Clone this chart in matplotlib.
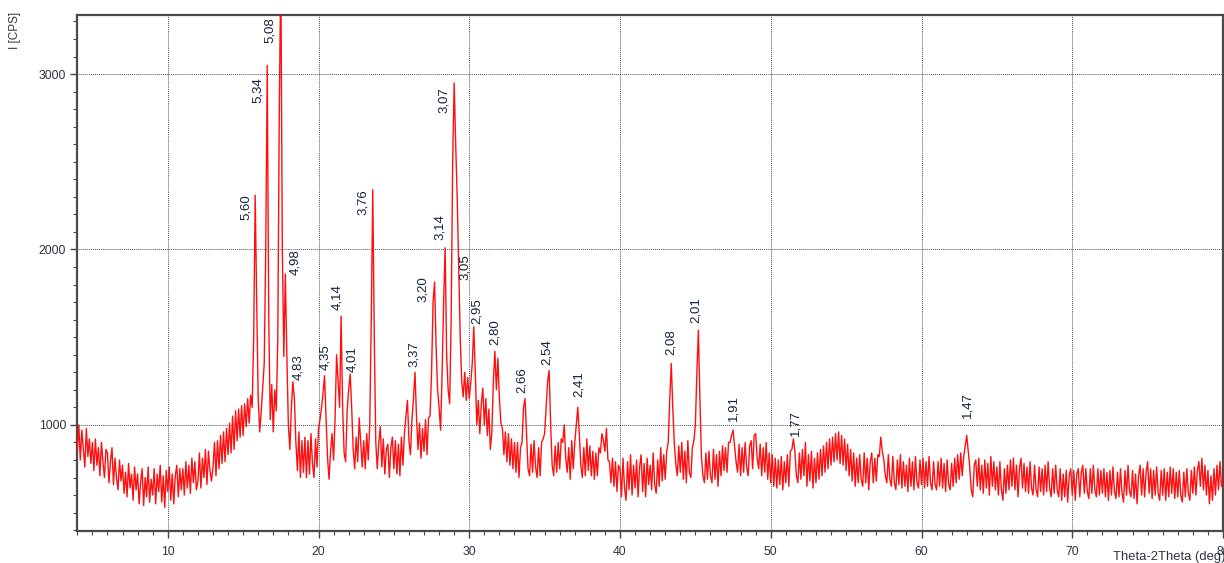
import numpy as np
import matplotlib
matplotlib.use("Agg")
import matplotlib.pyplot as plt
from matplotlib.ticker import MultipleLocator

# ---- data ----
scan_start = 4.0   # deg 2theta
scan_step = 0.1    # deg
intensity = [
    850, 1000, 800, 970, 860, 760, 980, 820, 920, 780,       # 4
    900, 740, 920, 770, 870, 710, 900, 790, 700, 860,        # 5
    840, 670, 790, 870, 660, 810, 700, 630, 800, 680,        # 6
    770, 610, 730, 590, 780, 640, 720, 570, 760, 630,        # 7
    720, 550, 670, 750, 540, 700, 590, 760, 560, 690,        # 8
    600, 750, 550, 720, 620, 770, 560, 710, 530, 740,        # 9
    620, 760, 570, 720, 550, 710, 770, 590, 750, 630,        # 10
    750, 600, 790, 640, 770, 610, 810, 670, 790, 630,        # 11
    680, 840, 640, 810, 700, 860, 660, 850, 740, 680,        # 12
    760, 900, 710, 910, 750, 940, 780, 960, 790, 980,        # 13
    830, 1010, 840, 1050, 860, 1080, 910, 1090, 930, 1110,   # 14
    940, 1120, 990, 1150, 1010, 1170, 1100, 1500, 2310, 1700,   # 15
    1150, 960, 1080, 1220, 1350, 2000, 3050, 1600, 1030, 1230,  # 16
    960, 1200, 1080, 1500, 2800, 3600, 2000, 1390, 1860, 1400,  # 17
    1000, 860, 1100, 1245, 1150, 900, 740, 960, 700, 910,    # 18
    730, 930, 700, 910, 720, 950, 780, 700, 920, 760,        # 19
    980, 1030, 1100, 1180, 1280, 1050, 810, 690, 850, 950,   # 20
    800, 1040, 1400, 1250, 1100, 1620, 1100, 840, 790, 1080, # 21
    1200, 1290, 1100, 860, 750, 930, 790, 1040, 900, 760,    # 22
    910, 750, 950, 800, 1000, 1600, 2340, 1500, 900, 750,    # 23
    900, 990, 760, 920, 720, 860, 890, 700, 870, 930,        # 24
    750, 910, 720, 890, 710, 930, 770, 950, 1050, 1140,      # 25
    910, 830, 1030, 1150, 1300, 1050, 860, 1010, 810, 980,   # 26
    850, 1030, 830, 1040, 1050, 1300, 1700, 1815, 1450, 1200,   # 27
    1100, 970, 1300, 1700, 2010, 1400, 1200, 1120, 1600, 2500,  # 28
    2950, 2600, 2300, 1900, 1500, 1250, 1160, 1300, 1140, 1270, # 29
    1150, 1240, 1350, 1560, 1300, 1000, 1140, 950, 1120, 1210,  # 30
    1000, 1150, 940, 1090, 860, 960, 1250, 1420, 1200, 1380, # 31
    1150, 1010, 980, 830, 960, 790, 950, 770, 920, 750,      # 32
    900, 730, 900, 700, 870, 900, 1100, 1150, 950, 750,      # 33
    710, 890, 730, 910, 760, 700, 870, 710, 900, 920,        # 34
    950, 1100, 1250, 1310, 1000, 770, 710, 880, 730, 900,    # 35
    750, 920, 900, 1000, 810, 730, 870, 690, 910, 750,       # 36
    900, 1000, 1100, 950, 770, 700, 870, 710, 920, 740,      # 37
    880, 710, 850, 690, 840, 710, 870, 840, 950, 910,        # 38
    850, 980, 800, 790, 670, 810, 650, 790, 620, 770,        # 39
    750, 590, 810, 640, 570, 790, 630, 830, 600, 770,        # 40
    640, 800, 590, 760, 830, 620, 780, 590, 810, 660,        # 41
    770, 630, 840, 660, 610, 800, 650, 870, 680, 830,        # 42
    690, 850, 900, 1150, 1350, 1100, 900, 780, 710, 880,     # 43
    730, 900, 690, 850, 670, 910, 730, 700, 870, 910,        # 44
    1000, 1300, 1540, 1150, 820, 710, 670, 840, 690, 850,    # 45
    710, 670, 860, 690, 830, 650, 850, 710, 880, 740,        # 46
    870, 730, 900, 900, 940, 970, 880, 790, 730, 890,        # 47
    710, 870, 730, 900, 760, 710, 880, 910, 750, 940,        # 48
    950, 810, 750, 890, 710, 870, 730, 900, 690, 840,        # 49
    670, 830, 650, 810, 640, 800, 660, 820, 630, 790,        # 50
    670, 830, 650, 850, 860, 920, 850, 710, 670, 840,        # 51
    690, 860, 710, 900, 650, 830, 680, 850, 640, 810,        # 52
    670, 840, 690, 860, 710, 880, 730, 900, 750, 920,        # 53
    770, 930, 790, 950, 800, 960, 780, 940, 770, 920,        # 54
    740, 890, 710, 860, 680, 840, 650, 810, 670, 830,        # 55
    690, 650, 840, 670, 810, 630, 790, 840, 670, 810,        # 56
    680, 830, 820, 930, 850, 800, 710, 670, 830, 690,        # 57
    650, 820, 670, 630, 800, 660, 830, 640, 790, 650,        # 58
    770, 620, 810, 650, 790, 630, 820, 670, 640, 800,        # 59
    660, 810, 640, 790, 650, 820, 670, 630, 790, 660,        # 60
    630, 790, 650, 810, 640, 780, 620, 800, 660, 630,        # 61
    780, 650, 810, 670, 830, 690, 840, 710, 820, 880,        # 62
    940, 850, 760, 630, 590, 770, 800, 650, 810, 630,        # 63
    770, 610, 800, 640, 780, 600, 820, 650, 790, 630,        # 64
    760, 600, 790, 630, 570, 750, 610, 770, 630, 800,        # 65
    650, 810, 630, 770, 590, 750, 810, 640, 780, 620,        # 66
    760, 610, 790, 640, 600, 770, 630, 590, 760, 620,        # 67
    750, 600, 770, 620, 790, 640, 590, 750, 610, 770,        # 68
    630, 590, 750, 570, 720, 590, 740, 560, 710, 750,        # 69
    600, 740, 570, 720, 750, 590, 730, 770, 610, 750,        # 70
    620, 580, 750, 610, 770, 630, 590, 750, 600, 740,        # 71
    610, 750, 590, 730, 570, 740, 600, 760, 620, 580,        # 72
    730, 590, 750, 610, 560, 740, 600, 770, 620, 590,        # 73
    740, 580, 720, 550, 710, 770, 600, 750, 590, 730,        # 74
    790, 610, 750, 580, 740, 600, 760, 610, 570, 740,        # 75
    600, 750, 570, 730, 590, 760, 610, 750, 580, 730,        # 76
    590, 740, 600, 560, 730, 590, 750, 610, 570, 740,        # 77
    610, 760, 600, 740, 790, 650, 810, 630, 770, 600,        # 78
    740, 550, 710, 570, 750, 600, 770, 630, 790, 650,        # 79
    690,                                                     # 80
]

# peak annotations: d-spacing text, 2theta of label, intensity at label bottom
peak_labels = ["5,60", "5,34", "5,08", "4,98", "4,83", "4,35", "4,14", "4,01",
               "3,76", "3,37", "3,20", "3,14", "3,07", "3,05", "2,95", "2,80",
               "2,66", "2,54", "2,41", "2,08", "2,01", "1,91", "1,77", "1,47"]
peak_label_x = [15.2, 16.0, 16.8, 18.45, 18.65, 20.45, 21.22, 22.22,
                22.97, 26.3, 26.93, 28.04, 28.3, 29.74, 30.52, 31.69,
                33.5, 35.17, 37.27, 43.4, 45.01, 47.52, 51.65, 63.05]
peak_label_y = [2167, 2834, 3177, 1853, 1254, 1311, 1654, 1300,
                2196, 1330, 1701, 2053, 2776, 1825, 1578, 1454,
                1179, 1340, 1159, 1398, 1582, 1020, 938, 1040]

x_major = [10, 20, 30, 40, 50, 60, 70, 80]
y_major = [1000, 2000, 3000]

# ---- figure ----
W, H = 1224, 563
fig = plt.figure(figsize=(W / 100, H / 100), dpi=100)
left, right, top, bottom = 77.3, 1223.0, 15.0, 531.0
ax = fig.add_axes([left / W, 1 - bottom / H, (right - left) / W, (bottom - top) / H])

theta = scan_start + scan_step * np.arange(len(intensity))
ax.plot(theta, intensity, color="#ff1010", lw=1.0, zorder=3)

ax.set_xlim(4, 80)
ax.set_ylim(395, 3337)

ax.set_xticks(x_major)
ax.set_xticklabels([str(v) for v in x_major])
ax.xaxis.set_minor_locator(MultipleLocator(1))
ax.set_yticks(y_major)
ax.set_yticklabels([str(v) for v in y_major])
ax.yaxis.set_minor_locator(MultipleLocator(100))

for lab in ax.get_xticklabels() + ax.get_yticklabels():
    lab.set_fontfamily(["Liberation Sans", "DejaVu Sans"])
    lab.set_fontsize(8.8)
    lab.set_color("#2e3440")

ax.tick_params(axis="both", which="major", length=5, width=1.0, color="#444444", direction="out")
ax.tick_params(axis="both", which="minor", length=3, width=0.8, color="#444444", direction="out")
ax.tick_params(axis="x", which="major", pad=6)
ax.tick_params(axis="y", which="major", pad=3)

ax.grid(True, which="major", color="#555555", linestyle=(0, (1, 1)), linewidth=0.7, zorder=1)
ax.set_axisbelow(True)

for side in ["left", "bottom", "top", "right"]:
    ax.spines[side].set_color("#4a4a4a")
    ax.spines[side].set_linewidth(1.6)

label_family = ["Liberation Sans Narrow", "Liberation Sans", "DejaVu Sans"]
for txt, px, py in zip(peak_labels, peak_label_x, peak_label_y):
    ax.text(px, py, txt, rotation=90, ha="center", va="bottom",
            fontsize=9.5, family=label_family, color="#14233c", zorder=4)

fig.text(15 / W, 1 - 30 / H, "I [CPS]", rotation=90, ha="center", va="center",
         fontsize=8.5, family=["Liberation Sans", "DejaVu Sans"], color="#2e3440")
fig.text(1113 / W, 1 - 557 / H, "Theta-2Theta (deg)", ha="left", va="center",
         fontsize=9.4, family=["Liberation Sans", "DejaVu Sans"], color="#2e3440")

fig.savefig("out.png", dpi=100)
